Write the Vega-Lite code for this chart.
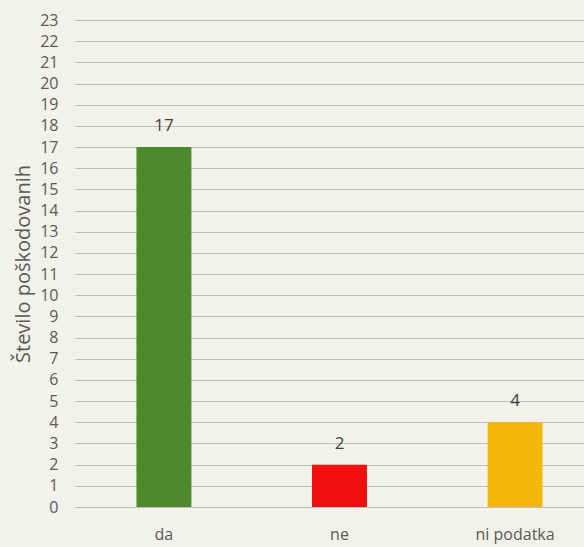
{
  "$schema": "https://vega.github.io/schema/vega-lite/v6.json",
  "autosize": "none",
  "width": 529,
  "height": 487,
  "padding": {"left": 75, "top": 20, "right": 0, "bottom": 40},
  "background": "#F3F2EA",
  "config": {"view": {"stroke": null}, "font": "Open Sans"},
  "data": {"values": [
    {"odgovor": "da", "stevilo": 17, "barva": "#4E8A2C"},
    {"odgovor": "ne", "stevilo": 2, "barva": "#F20F0F"},
    {"odgovor": "ni podatka", "stevilo": 4, "barva": "#F3B70A"}
  ]},
  "encoding": {
    "x": {"field": "odgovor", "type": "nominal", "sort": null,
      "scale": {"paddingInner": 0.687, "paddingOuter": 0.35},
      "axis": {"title": null, "labelAngle": 0, "domain": false, "ticks": false, "labelPadding": 19, "labelFontSize": 16, "labelColor": "#595959", "labelFont": "Open Sans"}},
    "y": {"field": "stevilo", "type": "quantitative",
      "scale": {"domain": [0, 23], "nice": false},
      "axis": {"title": "Število poškodovanih", "titleFontSize": 20, "titleFontWeight": "normal", "titleColor": "#595959", "titlePadding": 6, "titleFont": "Open Sans",
        "values": [0,1,2,3,4,5,6,7,8,9,10,11,12,13,14,15,16,17,18,19,20,21,22,23],
        "domain": false, "ticks": false, "labelPadding": 17, "labelFontSize": 16, "labelColor": "#595959", "labelFont": "Open Sans",
        "gridColor": "#BDBDBD", "gridWidth": 1.2}}
  },
  "layer": [
    {"mark": {"type": "bar"}, "encoding": {"color": {"field": "barva", "type": "nominal", "scale": null}}},
    {"mark": {"type": "text", "baseline": "bottom", "dy": -12, "fontSize": 17, "color": "#404040", "font": "Open Sans"},
     "encoding": {"text": {"field": "stevilo", "type": "quantitative"}}}
  ]
}
